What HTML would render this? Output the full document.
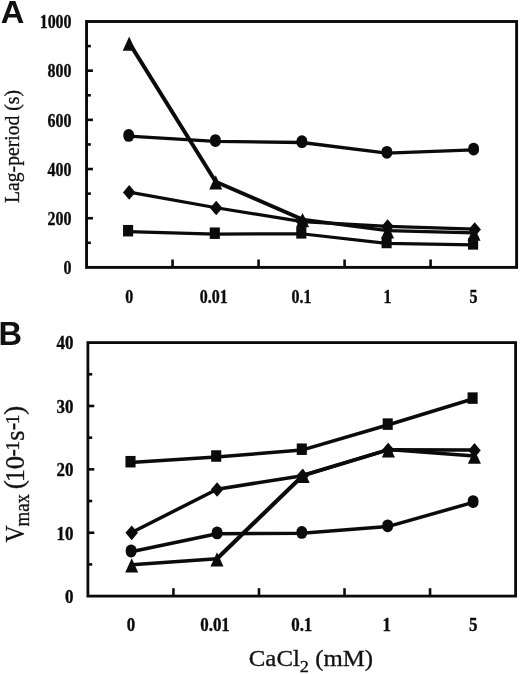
<!DOCTYPE html>
<html><head><meta charset="utf-8"><title>Figure</title>
<style>
html,body{margin:0;padding:0;background:#fff;}
body{width:520px;height:675px;overflow:hidden;}
svg{display:block;filter:blur(0.3px);}
.tk{font-family:"Liberation Serif",serif;font-weight:bold;font-size:18.6px;fill:#0b0b0b;stroke:#0b0b0b;stroke-width:0.35px;}
.ax{font-family:"Liberation Serif",serif;fill:#111;stroke:#111;stroke-width:0.3px;}
.pl{font-family:"Liberation Sans",sans-serif;font-weight:bold;font-size:32.6px;fill:#111;}
</style></head><body>
<svg width="520" height="675" viewBox="0 0 520 675">
<rect width="520" height="675" fill="#fff"/>
<line x1="129.20" y1="42.90" x2="215.70" y2="181.80" stroke="#0b0b0b" stroke-width="3.9" stroke-linecap="round"/>
<line x1="215.70" y1="181.80" x2="302.60" y2="219.50" stroke="#0b0b0b" stroke-width="3.9" stroke-linecap="round"/>
<line x1="302.60" y1="219.50" x2="387.60" y2="230.70" stroke="#0b0b0b" stroke-width="3.3" stroke-linecap="round"/>
<line x1="387.60" y1="230.70" x2="474.00" y2="232.90" stroke="#0b0b0b" stroke-width="3.3" stroke-linecap="round"/>
<polyline points="128.70,136.20 215.40,141.40 301.90,142.50 386.90,153.10 473.60,149.90" fill="none" stroke="#0b0b0b" stroke-width="3.3" stroke-linejoin="round"/>
<polyline points="129.20,192.10 216.20,207.70 302.30,221.60 387.60,226.30 474.70,229.20" fill="none" stroke="#0b0b0b" stroke-width="3.2" stroke-linejoin="round"/>
<polyline points="128.10,231.60 214.80,234.10 301.30,233.75 386.60,243.40 473.10,244.80" fill="none" stroke="#0b0b0b" stroke-width="3.2" stroke-linejoin="round"/>
<polygon points="122.70,50.70 129.20,36.40 135.70,50.70" fill="#0b0b0b"/>
<polygon points="209.20,189.60 215.70,175.30 222.20,189.60" fill="#0b0b0b"/>
<polygon points="296.10,227.30 302.60,213.00 309.10,227.30" fill="#0b0b0b"/>
<polygon points="381.10,238.50 387.60,224.20 394.10,238.50" fill="#0b0b0b"/>
<polygon points="467.50,240.70 474.00,226.40 480.50,240.70" fill="#0b0b0b"/>
<rect x="123.30" y="129.00" width="10.8" height="12.8" rx="5.2" ry="5.6" fill="#0b0b0b"/>
<rect x="210.00" y="134.20" width="10.8" height="12.8" rx="5.2" ry="5.6" fill="#0b0b0b"/>
<rect x="296.50" y="135.30" width="10.8" height="12.8" rx="5.2" ry="5.6" fill="#0b0b0b"/>
<rect x="381.50" y="145.90" width="10.8" height="12.8" rx="5.2" ry="5.6" fill="#0b0b0b"/>
<rect x="468.20" y="142.70" width="10.8" height="12.8" rx="5.2" ry="5.6" fill="#0b0b0b"/>
<polygon points="122.95,192.40 129.20,185.05 135.45,192.40 129.20,199.75" fill="#0b0b0b"/>
<polygon points="209.95,208.00 216.20,200.65 222.45,208.00 216.20,215.35" fill="#0b0b0b"/>
<polygon points="296.05,221.90 302.30,214.55 308.55,221.90 302.30,229.25" fill="#0b0b0b"/>
<polygon points="381.35,226.60 387.60,219.25 393.85,226.60 387.60,233.95" fill="#0b0b0b"/>
<polygon points="468.45,229.50 474.70,222.15 480.95,229.50 474.70,236.85" fill="#0b0b0b"/>
<rect x="123.05" y="224.95" width="10.1" height="11.5" fill="#0b0b0b"/>
<rect x="209.75" y="227.45" width="10.1" height="11.5" fill="#0b0b0b"/>
<rect x="296.25" y="227.10" width="10.1" height="11.5" fill="#0b0b0b"/>
<rect x="381.55" y="236.75" width="10.1" height="11.5" fill="#0b0b0b"/>
<rect x="468.05" y="238.15" width="10.1" height="11.5" fill="#0b0b0b"/>
<rect x="86.55" y="21.5" width="430.05" height="245.90" fill="none" stroke="#0b0b0b" stroke-width="2.9"/>
<text class="tk" transform="translate(71.6,274.20) scale(0.86,1)" text-anchor="end">0</text>
<line x1="86.55" y1="218.22" x2="92.95" y2="218.22" stroke="#0b0b0b" stroke-width="2.6"/>
<text class="tk" transform="translate(71.6,225.02) scale(0.86,1)" text-anchor="end">200</text>
<line x1="86.55" y1="169.04" x2="92.95" y2="169.04" stroke="#0b0b0b" stroke-width="2.6"/>
<text class="tk" transform="translate(71.6,175.84) scale(0.86,1)" text-anchor="end">400</text>
<line x1="86.55" y1="119.86" x2="92.95" y2="119.86" stroke="#0b0b0b" stroke-width="2.6"/>
<text class="tk" transform="translate(71.6,126.66) scale(0.86,1)" text-anchor="end">600</text>
<line x1="86.55" y1="70.68" x2="92.95" y2="70.68" stroke="#0b0b0b" stroke-width="2.6"/>
<text class="tk" transform="translate(71.6,77.48) scale(0.86,1)" text-anchor="end">800</text>
<text class="tk" transform="translate(71.6,28.30) scale(0.86,1)" text-anchor="end">1000</text>
<line x1="86.55" y1="242.81" x2="90.85" y2="242.81" stroke="#0b0b0b" stroke-width="2.6"/>
<line x1="86.55" y1="193.63" x2="90.85" y2="193.63" stroke="#0b0b0b" stroke-width="2.6"/>
<line x1="86.55" y1="144.45" x2="90.85" y2="144.45" stroke="#0b0b0b" stroke-width="2.6"/>
<line x1="86.55" y1="95.27" x2="90.85" y2="95.27" stroke="#0b0b0b" stroke-width="2.6"/>
<line x1="86.55" y1="46.09" x2="90.85" y2="46.09" stroke="#0b0b0b" stroke-width="2.6"/>
<line x1="172.56" y1="267.4" x2="172.56" y2="259.5" stroke="#0b0b0b" stroke-width="2.6"/>
<line x1="258.57" y1="267.4" x2="258.57" y2="259.5" stroke="#0b0b0b" stroke-width="2.6"/>
<line x1="344.58" y1="267.4" x2="344.58" y2="259.5" stroke="#0b0b0b" stroke-width="2.6"/>
<line x1="430.59" y1="267.4" x2="430.59" y2="259.5" stroke="#0b0b0b" stroke-width="2.6"/>
<text class="tk" transform="translate(129.21,302.7) scale(0.86,1)" text-anchor="middle">0</text>
<text class="tk" transform="translate(213.72,302.7) scale(0.86,1)" text-anchor="middle">0.01</text>
<text class="tk" transform="translate(301.57,302.7) scale(0.86,1)" text-anchor="middle">0.1</text>
<text class="tk" transform="translate(387.59,302.7) scale(0.86,1)" text-anchor="middle">1</text>
<text class="tk" transform="translate(473.60,302.7) scale(0.86,1)" text-anchor="middle">5</text>
<line x1="131.70" y1="564.80" x2="217.00" y2="558.70" stroke="#0b0b0b" stroke-width="3.5" stroke-linecap="round"/>
<line x1="217.00" y1="558.70" x2="303.20" y2="475.20" stroke="#0b0b0b" stroke-width="4.1" stroke-linecap="round"/>
<line x1="303.20" y1="475.20" x2="388.40" y2="449.60" stroke="#0b0b0b" stroke-width="3.5" stroke-linecap="round"/>
<line x1="388.40" y1="449.60" x2="474.40" y2="455.90" stroke="#0b0b0b" stroke-width="3.5" stroke-linecap="round"/>
<polyline points="131.10,551.80 217.10,533.70 301.80,533.20 387.70,526.60 473.10,502.40" fill="none" stroke="#0b0b0b" stroke-width="3.5" stroke-linejoin="round"/>
<polyline points="131.70,532.50 217.10,489.20 302.50,475.70 388.20,449.80 474.50,450.10" fill="none" stroke="#0b0b0b" stroke-width="3.5" stroke-linejoin="round"/>
<polyline points="130.50,462.60 216.20,456.90 301.80,450.10 387.70,425.00 472.60,399.00" fill="none" stroke="#0b0b0b" stroke-width="3.5" stroke-linejoin="round"/>
<polygon points="125.20,572.60 131.70,558.30 138.20,572.60" fill="#0b0b0b"/>
<polygon points="210.50,566.50 217.00,552.20 223.50,566.50" fill="#0b0b0b"/>
<polygon points="296.70,483.00 303.20,468.70 309.70,483.00" fill="#0b0b0b"/>
<polygon points="381.90,457.40 388.40,443.10 394.90,457.40" fill="#0b0b0b"/>
<polygon points="467.90,463.70 474.40,449.40 480.90,463.70" fill="#0b0b0b"/>
<rect x="125.70" y="544.60" width="10.8" height="12.8" rx="5.2" ry="5.6" fill="#0b0b0b"/>
<rect x="211.70" y="526.50" width="10.8" height="12.8" rx="5.2" ry="5.6" fill="#0b0b0b"/>
<rect x="296.40" y="526.00" width="10.8" height="12.8" rx="5.2" ry="5.6" fill="#0b0b0b"/>
<rect x="382.30" y="519.40" width="10.8" height="12.8" rx="5.2" ry="5.6" fill="#0b0b0b"/>
<rect x="467.70" y="495.20" width="10.8" height="12.8" rx="5.2" ry="5.6" fill="#0b0b0b"/>
<polygon points="125.45,532.80 131.70,525.45 137.95,532.80 131.70,540.15" fill="#0b0b0b"/>
<polygon points="210.85,489.50 217.10,482.15 223.35,489.50 217.10,496.85" fill="#0b0b0b"/>
<polygon points="296.25,476.00 302.50,468.65 308.75,476.00 302.50,483.35" fill="#0b0b0b"/>
<polygon points="381.95,450.10 388.20,442.75 394.45,450.10 388.20,457.45" fill="#0b0b0b"/>
<polygon points="468.25,450.40 474.50,443.05 480.75,450.40 474.50,457.75" fill="#0b0b0b"/>
<rect x="125.45" y="455.95" width="10.1" height="11.5" fill="#0b0b0b"/>
<rect x="211.15" y="450.25" width="10.1" height="11.5" fill="#0b0b0b"/>
<rect x="296.75" y="443.45" width="10.1" height="11.5" fill="#0b0b0b"/>
<rect x="382.65" y="418.35" width="10.1" height="11.5" fill="#0b0b0b"/>
<rect x="467.55" y="392.35" width="10.1" height="11.5" fill="#0b0b0b"/>
<rect x="87.9" y="342.6" width="427.70" height="253.50" fill="none" stroke="#0b0b0b" stroke-width="2.8"/>
<text class="tk" transform="translate(73.4,602.90) scale(0.91,1)" text-anchor="end">0</text>
<line x1="87.9" y1="532.73" x2="94.30000000000001" y2="532.73" stroke="#0b0b0b" stroke-width="2.6"/>
<text class="tk" transform="translate(73.4,539.52) scale(0.91,1)" text-anchor="end">10</text>
<line x1="87.9" y1="469.35" x2="94.30000000000001" y2="469.35" stroke="#0b0b0b" stroke-width="2.6"/>
<text class="tk" transform="translate(73.4,476.15) scale(0.91,1)" text-anchor="end">20</text>
<line x1="87.9" y1="405.98" x2="94.30000000000001" y2="405.98" stroke="#0b0b0b" stroke-width="2.6"/>
<text class="tk" transform="translate(73.4,412.78) scale(0.91,1)" text-anchor="end">30</text>
<text class="tk" transform="translate(73.4,349.40) scale(0.91,1)" text-anchor="end">40</text>
<line x1="87.9" y1="564.41" x2="92.2" y2="564.41" stroke="#0b0b0b" stroke-width="2.6"/>
<line x1="87.9" y1="501.04" x2="92.2" y2="501.04" stroke="#0b0b0b" stroke-width="2.6"/>
<line x1="87.9" y1="437.66" x2="92.2" y2="437.66" stroke="#0b0b0b" stroke-width="2.6"/>
<line x1="87.9" y1="374.29" x2="92.2" y2="374.29" stroke="#0b0b0b" stroke-width="2.6"/>
<line x1="173.44" y1="596.1" x2="173.44" y2="588.2" stroke="#0b0b0b" stroke-width="2.6"/>
<line x1="258.98" y1="596.1" x2="258.98" y2="588.2" stroke="#0b0b0b" stroke-width="2.6"/>
<line x1="344.52" y1="596.1" x2="344.52" y2="588.2" stroke="#0b0b0b" stroke-width="2.6"/>
<line x1="430.06" y1="596.1" x2="430.06" y2="588.2" stroke="#0b0b0b" stroke-width="2.6"/>
<text class="tk" transform="translate(130.97,631.4) scale(0.91,1)" text-anchor="middle">0</text>
<text class="tk" transform="translate(215.01,631.4) scale(0.91,1)" text-anchor="middle">0.01</text>
<text class="tk" transform="translate(301.75,631.4) scale(0.91,1)" text-anchor="middle">0.1</text>
<text class="tk" transform="translate(386.79,631.4) scale(0.91,1)" text-anchor="middle">1</text>
<text class="tk" transform="translate(473.33,631.4) scale(0.91,1)" text-anchor="middle">5</text>
<text class="pl" style="font-size:31.4px" transform="translate(0.8,23) scale(1.04,1)">A</text>
<text class="pl" x="-1.6" y="344.6">B</text>
<text class="ax" font-size="20" text-anchor="middle" transform="translate(18.6,146.5) rotate(-90) scale(0.982,1)">Lag-period (s)</text>
<g transform="rotate(-90)" class="ax" text-anchor="middle">
<text font-size="26.5" transform="translate(-533.90,23.50) scale(0.9,1)">V</text>
<text font-size="20.5" transform="translate(-510.25,29.00) scale(0.915,1)">max</text>
<text font-size="26.5" transform="translate(-484.55,22.70) scale(1.05,1)">(</text>
<text font-size="26.5" transform="translate(-475.55,23.50) scale(1.0,1)">1</text>
<text font-size="26.5" transform="translate(-462.65,23.50) scale(1.0,1)">0</text>
<text font-size="20.5" transform="translate(-452.90,18.60) scale(1.0,1)" stroke="#111" stroke-width="0.7">-</text>
<text font-size="19.4" transform="translate(-445.55,18.60) scale(1.0,1)">1</text>
<text font-size="26.5" transform="translate(-435.65,23.50) scale(1.0,1)">s</text>
<text font-size="20.5" transform="translate(-426.70,18.60) scale(1.0,1)" stroke="#111" stroke-width="0.7">-</text>
<text font-size="19.4" transform="translate(-419.35,18.60) scale(1.0,1)">1</text>
<text font-size="26.5" transform="translate(-410.35,22.70) scale(1.05,1)">)</text>
</g>
<text class="ax" font-size="23" transform="translate(248.8,665.5) scale(1.08,1)">CaCl<tspan font-size="17" dy="6.3">2</tspan><tspan dy="-6.3"> (mM)</tspan></text>
</svg>
</body></html>
